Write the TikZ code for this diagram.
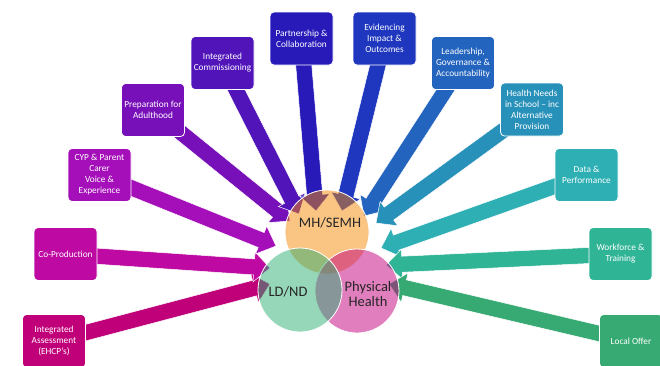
\documentclass[tikz,border=0pt]{standalone}
\usepackage{fontspec}
\setmainfont{Carlito}
\usetikzlibrary{calc}
\pgfdeclarelayer{bg}
\pgfsetlayers{bg,main}

\definecolor{cIA}{RGB}{192,0,120}
\definecolor{cCP}{RGB}{190,10,162}
\definecolor{cCYP}{RGB}{165,15,185}
\definecolor{cPA}{RGB}{120,16,185}
\definecolor{cIC}{RGB}{80,20,185}
\definecolor{cPC}{RGB}{40,25,185}
\definecolor{cEI}{RGB}{30,55,190}
\definecolor{cLG}{RGB}{35,100,190}
\definecolor{cHN}{RGB}{40,145,185}
\definecolor{cDP}{RGB}{45,175,180}
\definecolor{cWT}{RGB}{48,180,150}
\definecolor{cLO}{RGB}{55,170,115}
\definecolor{vOrange}{RGB}{245,137,8}
\definecolor{vGreen}{RGB}{45,175,115}
\definecolor{vPink}{RGB}{195,0,125}

\tikzset{
  box/.style={rounded corners=4pt, draw=white, line width=0.8pt, text=white,
    align=center, minimum width=63pt, minimum height=53pt, inner sep=1pt,
    font=\fontsize{9.3}{11}\selectfont},
  venn/.style={draw=white, line width=0.8pt, fill opacity=0.5},
  lbl/.style={text=black!85, font=\fontsize{14.5}{15}\selectfont, align=center},
}

\newcommand{\blockarrow}[3]{%
  \coordinate (ab) at ($(#3)!16pt!(#2)$);
  \filldraw[fill=#1, draw=white, line width=0.5pt]
    ($(#2)!8pt!90:(#3)$) -- ($(ab)!8pt!90:(#3)$) -- ($(ab)!15pt!90:(#3)$)
    -- (#3) -- ($(ab)!15pt!-90:(#3)$) -- ($(ab)!8pt!-90:(#3)$)
    -- ($(#2)!8pt!-90:(#3)$) -- cycle;
}

\begin{document}
\begin{tikzpicture}[x=1pt,y=-1pt]
\useasboundingbox (0,0) rectangle (660,365);

% boxes
\node[box, fill=cIA] (IA) at (54,341) {Integrated\\Assessment\\(EHCP’s)};
\node[box, fill=cCP] (CP) at (65.5,254) {Co-Production};
\node[box, fill=cCYP] (CYP) at (99.5,175) {CYP \& Parent\\Carer\\Voice \&\\Experience};
\node[box, fill=cPA] (PA) at (153,110) {Preparation for\\Adulthood};
\node[box, fill=cIC] (IC) at (222.5,63) {Integrated\\Commissioning};
\node[box, fill=cPC] (PC) at (301.5,38.5) {Partnership \&\\Collaboration};
\node[box, fill=cEI] (EI) at (384.5,38.5) {Evidencing\\Impact \&\\Outcomes};
\node[box, fill=cLG] (LG) at (463,63) {Leadership,\\Governance \&\\Accountability};
\node[box, fill=cHN] (HN) at (532,109.5) {Health Needs\\in School – inc\\Alternative\\Provision};
\node[box, fill=cDP] (DP) at (586.5,175) {Data \&\\Performance};
\node[box, fill=cWT] (WT) at (620.5,254) {Workforce \&\\Training};
\node[box, fill=cLO] (LO) at (631,341) {Local Offer};

% arrow tips
\coordinate (tIA) at (270,284);
\coordinate (tCP) at (270,268);
\coordinate (tCYP) at (276,246);
\coordinate (tPA) at (290,221);
\coordinate (tIC) at (299,214);
\coordinate (tPC) at (316,211);
\coordinate (tEI) at (342,211);
\coordinate (tLG) at (364,216);
\coordinate (tHN) at (376,223);
\coordinate (tDP) at (381,248);
\coordinate (tWT) at (386,265);
\coordinate (tLO) at (389,284);

% circle centres
\coordinate (cMH) at (327,232);
\coordinate (cLD) at (300,290);
\coordinate (cPH) at (357,291);

\begin{pgfonlayer}{bg}
  \blockarrow{cIA}{IA.center}{tIA}
  \blockarrow{cCP}{CP.center}{tCP}
  \blockarrow{cCYP}{CYP.center}{tCYP}
  \blockarrow{cPA}{PA.center}{tPA}
  \blockarrow{cIC}{IC.center}{tIC}
  \blockarrow{cPC}{PC.center}{tPC}
  \blockarrow{cEI}{EI.center}{tEI}
  \blockarrow{cLG}{LG.center}{tLG}
  \blockarrow{cHN}{HN.center}{tHN}
  \blockarrow{cDP}{DP.center}{tDP}
  \blockarrow{cWT}{WT.center}{tWT}
  \blockarrow{cLO}{LO.center}{tLO}
  \filldraw[venn, fill=vOrange] (cMH) circle (42);
  \filldraw[venn, fill=vPink] (cPH) circle (42);
  \filldraw[venn, fill=vGreen] (cLD) circle (42);
\end{pgfonlayer}

\node[lbl] (lMH) at (330,223) {MH/SEMH};
\node[lbl] (lLD) at (288,292) {LD/ND};
\node[lbl] (lPH) at (368,294) {Physical\\Health};
\end{tikzpicture}
\end{document}
